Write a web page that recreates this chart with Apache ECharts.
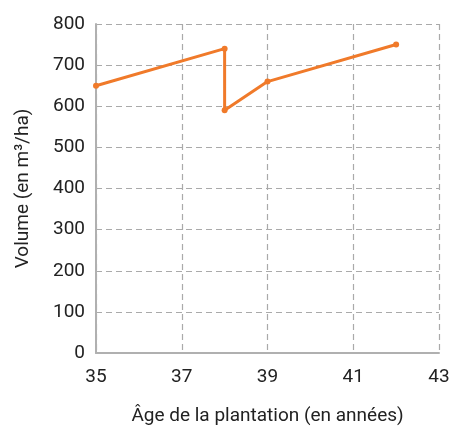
<!DOCTYPE html>
<html><head><meta charset="utf-8">
<script src="https://cdn.jsdelivr.net/npm/echarts@6/dist/echarts.min.js"></script>
<style>html,body{margin:0;padding:0;background:#fff}#c{width:452px;height:429px}</style>
</head><body><div id="c"></div>
<script>
const ages = [35, 38, 38, 39, 42];
const volumes = [650, 740, 590, 660, 750];
const xTitle = "Âge de la plantation (en années)";
const yTitle = "Volume (en m³/ha)";
const font = "Roboto";
const chart = echarts.init(document.getElementById('c'));
chart.setOption({
  animation: false,
  grid: {left: 96, right: 13, top: 24, bottom: 76, containLabel: false, outerBoundsMode: 'none'},
  xAxis: {
    type: 'value', min: 35, max: 43, interval: 2,
    name: xTitle, nameLocation: 'middle', nameGap: 54,
    nameTextStyle: {fontFamily: font, fontSize: 19, color: '#222'},
    axisLine: {show: true, lineStyle: {color: '#b0b0b0', width: 2}},
    axisTick: {show: false},
    axisLabel: {fontFamily: font, fontSize: 19, color: '#222', margin: 15},
    splitLine: {show: true, lineStyle: {color: '#aaa', type: [6, 4], width: 1.2}}
  },
  yAxis: {
    type: 'value', min: 0, max: 800, interval: 100,
    name: yTitle, nameLocation: 'middle', nameGap: 63, nameRotate: 90,
    nameTextStyle: {fontFamily: font, fontSize: 19, color: '#222'},
    axisLine: {show: true, lineStyle: {color: '#b0b0b0', width: 2}},
    axisTick: {show: false},
    axisLabel: {fontFamily: font, fontSize: 19, color: '#222', margin: 11},
    splitLine: {show: true, lineStyle: {color: '#aaa', type: [6, 4], width: 1.2}}
  },
  series: [{
    type: 'line',
    data: ages.map((a, i) => [a, volumes[i]]),
    symbol: 'circle', symbolSize: 6,
    lineStyle: {color: '#f07a2a', width: 3},
    itemStyle: {color: '#f07a2a'}
  }]
});
</script></body></html>
